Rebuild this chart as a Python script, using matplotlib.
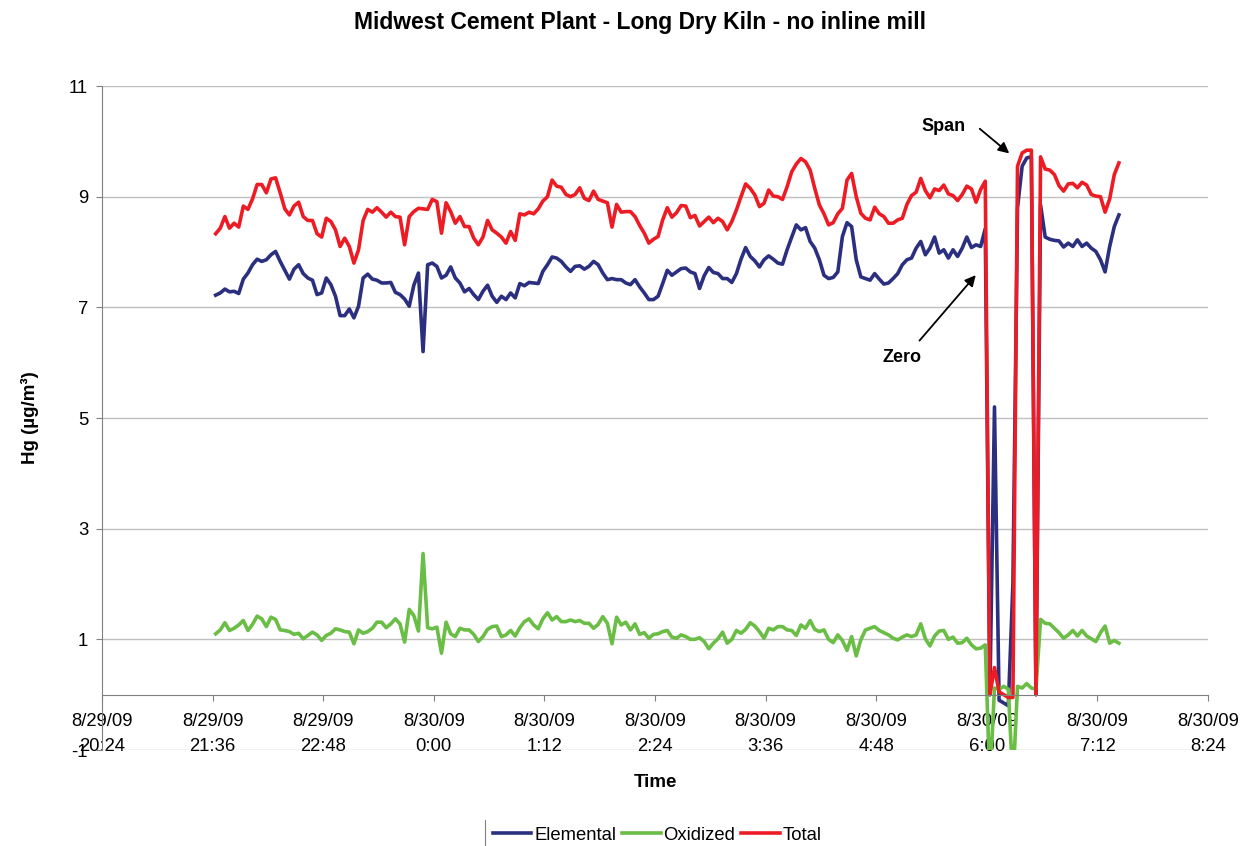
import matplotlib
matplotlib.use('Agg')
import matplotlib.pyplot as plt
import matplotlib.dates as mdates
from matplotlib.lines import Line2D
import pandas as pd

plt.rcParams['font.family'] = ['Liberation Sans', 'DejaVu Sans']
plt.rcParams['axes.unicode_minus'] = False

# Hg readings (ug/m3), one sample every 3 minutes starting 8/29/09 21:38
start = '2009-08-29 21:38'

elemental = [
    7.22, 7.26, 7.33, 7.28, 7.29, 7.25, 7.51, 7.62, 7.77, 7.87,
    7.83, 7.86, 7.95, 8.01, 7.83, 7.67, 7.51, 7.69, 7.77, 7.61,
    7.53, 7.49, 7.23, 7.26, 7.53, 7.41, 7.20, 6.85, 6.85, 6.97,
    6.81, 7.02, 7.53, 7.60, 7.51, 7.49, 7.44, 7.44, 7.45, 7.27,
    7.23, 7.15, 7.02, 7.40, 7.62, 6.20, 7.77, 7.80, 7.74, 7.53,
    7.58, 7.73, 7.53, 7.44, 7.28, 7.34, 7.23, 7.14, 7.29, 7.40,
    7.20, 7.09, 7.20, 7.14, 7.26, 7.17, 7.43, 7.39, 7.45, 7.44,
    7.43, 7.65, 7.77, 7.91, 7.89, 7.83, 7.73, 7.65, 7.74, 7.75,
    7.69, 7.74, 7.83, 7.77, 7.62, 7.50, 7.52, 7.50, 7.50, 7.44,
    7.41, 7.50, 7.37, 7.26, 7.14, 7.14, 7.20, 7.43, 7.67, 7.58,
    7.64, 7.70, 7.71, 7.64, 7.61, 7.34, 7.57, 7.72, 7.63, 7.61,
    7.52, 7.52, 7.45, 7.61, 7.87, 8.08, 7.92, 7.84, 7.73, 7.86,
    7.93, 7.87, 7.80, 7.78, 8.04, 8.27, 8.49, 8.40, 8.44, 8.19,
    8.07, 7.86, 7.58, 7.52, 7.54, 7.64, 8.28, 8.53, 8.46, 7.86,
    7.55, 7.52, 7.49, 7.61, 7.51, 7.42, 7.44, 7.52, 7.61, 7.77,
    7.86, 7.89, 8.07, 8.19, 7.95, 8.07, 8.27, 7.98, 8.04, 7.89,
    8.04, 7.92, 8.07, 8.27, 8.08, 8.13, 8.10, 8.42, 0.00, 5.20,
    -0.10, -0.15, -0.20, 2.00, 8.80, 9.55, 9.70, 9.72, 0.00, 8.85,
    8.27, 8.23, 8.21, 8.20, 8.09, 8.16, 8.10, 8.22, 8.10, 8.16,
    8.07, 8.01, 7.86, 7.64, 8.10, 8.46, 8.67,
]

oxidized = [
    1.10, 1.17, 1.30, 1.16, 1.20, 1.26, 1.34, 1.16, 1.27, 1.42,
    1.37, 1.23, 1.40, 1.36, 1.17, 1.16, 1.14, 1.09, 1.11, 1.01,
    1.07, 1.13, 1.08, 0.98, 1.07, 1.11, 1.19, 1.17, 1.14, 1.13,
    0.92, 1.17, 1.11, 1.14, 1.20, 1.31, 1.31, 1.21, 1.28, 1.37,
    1.28, 0.95, 1.54, 1.43, 1.15, 2.55, 1.21, 1.19, 1.22, 0.75,
    1.31, 1.10, 1.05, 1.20, 1.17, 1.17, 1.09, 0.96, 1.05, 1.18,
    1.23, 1.24, 1.05, 1.08, 1.16, 1.06, 1.21, 1.32, 1.37, 1.26,
    1.19, 1.37, 1.48, 1.35, 1.41, 1.32, 1.32, 1.35, 1.32, 1.34,
    1.29, 1.29, 1.20, 1.27, 1.41, 1.29, 0.92, 1.40, 1.26, 1.31,
    1.17, 1.28, 1.09, 1.12, 1.02, 1.09, 1.10, 1.14, 1.16, 1.04,
    1.02, 1.08, 1.05, 1.00, 1.00, 1.03, 0.96, 0.83, 0.93, 1.01,
    1.13, 0.93, 1.00, 1.16, 1.11, 1.18, 1.30, 1.24, 1.14, 1.02,
    1.20, 1.17, 1.23, 1.23, 1.17, 1.16, 1.07, 1.26, 1.20, 1.34,
    1.18, 1.14, 1.17, 1.00, 0.94, 1.08, 0.98, 0.80, 1.05, 0.70,
    0.99, 1.17, 1.20, 1.23, 1.16, 1.12, 1.08, 1.02, 0.99, 1.04,
    1.08, 1.05, 1.08, 1.28, 1.01, 0.88, 1.06, 1.15, 1.16, 1.00,
    1.04, 0.93, 0.94, 1.02, 0.90, 0.83, 0.84, 0.90, -1.60, 0.12,
    0.10, 0.15, 0.10, -1.60, 0.15, 0.12, 0.20, 0.12, 0.10, 1.36,
    1.29, 1.28, 1.20, 1.12, 1.02, 1.08, 1.16, 1.06, 1.16, 1.06,
    1.01, 0.96, 1.12, 1.24, 0.93, 0.98, 0.93,
]

total = [
    8.33, 8.43, 8.64, 8.43, 8.52, 8.45, 8.83, 8.77, 8.96, 9.22,
    9.22, 9.07, 9.32, 9.34, 9.07, 8.78, 8.67, 8.83, 8.90, 8.64,
    8.57, 8.57, 8.33, 8.27, 8.61, 8.55, 8.40, 8.10, 8.25, 8.10,
    7.80, 8.04, 8.57, 8.77, 8.72, 8.80, 8.72, 8.63, 8.72, 8.64,
    8.63, 8.13, 8.64, 8.73, 8.79, 8.78, 8.77, 8.95, 8.91, 8.34,
    8.89, 8.73, 8.52, 8.64, 8.46, 8.46, 8.25, 8.13, 8.27, 8.57,
    8.40, 8.34, 8.27, 8.16, 8.37, 8.21, 8.69, 8.67, 8.72, 8.69,
    8.78, 8.92, 9.00, 9.30, 9.19, 9.17, 9.04, 9.00, 9.04, 9.16,
    8.97, 8.93, 9.10, 8.95, 8.92, 8.89, 8.45, 8.86, 8.72, 8.73,
    8.73, 8.64, 8.48, 8.34, 8.16, 8.23, 8.28, 8.58, 8.80, 8.63,
    8.71, 8.84, 8.83, 8.62, 8.66, 8.47, 8.55, 8.63, 8.53, 8.61,
    8.55, 8.40, 8.55, 8.76, 9.00, 9.23, 9.15, 9.03, 8.82, 8.88,
    9.12, 9.01, 9.00, 8.95, 9.18, 9.45, 9.59, 9.69, 9.63, 9.48,
    9.15, 8.85, 8.69, 8.49, 8.53, 8.69, 8.79, 9.30, 9.42, 9.00,
    8.70, 8.61, 8.58, 8.81, 8.69, 8.64, 8.52, 8.52, 8.58, 8.61,
    8.86, 9.02, 9.08, 9.33, 9.11, 8.98, 9.14, 9.11, 9.21, 9.05,
    9.02, 8.93, 9.04, 9.19, 9.14, 8.90, 9.13, 9.28, 0.00, 0.49,
    0.05, 0.00, -0.05, -0.05, 9.55, 9.79, 9.84, 9.84, 0.00, 9.72,
    9.50, 9.48, 9.40, 9.20, 9.10, 9.23, 9.24, 9.16, 9.26, 9.21,
    9.04, 9.01, 9.00, 8.72, 8.96, 9.40, 9.61,
]

y_ticks = [-1, 1, 3, 5, 7, 9, 11]
x_ticks = pd.date_range('2009-08-29 20:24', '2009-08-30 08:24', freq='72min')

# annotation anchors: (time, value)
zero_head = ('2009-08-30 05:54', 7.62)
zero_tail = ('2009-08-30 05:15', 6.36)
zero_text = ('2009-08-30 05:05', 6.10)
span_head = ('2009-08-30 06:16', 9.75)
span_tail = ('2009-08-30 05:54', 10.26)
span_text = ('2009-08-30 05:32', 10.26)

title = 'Midwest Cement Plant - Long Dry Kiln - no inline mill'

times = pd.date_range(start, periods=len(total), freq='3min').to_pydatetime()


def dnum(s):
    return mdates.date2num(pd.Timestamp(s).to_pydatetime())


W, H = 1240, 846
fig = plt.figure(figsize=(W / 100, H / 100), dpi=100)
ax = fig.add_axes([102 / W, 1 - 750 / H, (1208 - 102) / W, (750 - 86) / H])

ax.plot(times, elemental, color='#2b2f7f', lw=2.6, label='Elemental')
ax.plot(times, oxidized, color='#6abd45', lw=2.6, label='Oxidized')
ax.plot(times, total, color='#ed1c24', lw=2.6, label='Total')

ax.set_xlim(dnum(x_ticks[0]), dnum(x_ticks[-1]))
ax.set_ylim(-1, 11)
ax.set_yticks(y_ticks)

# date on major ticks, clock time on minor ticks at the same spots (two-line labels)
tick_pos = [dnum(t) for t in x_ticks]
ax.xaxis.remove_overlapping_locs = False
ax.set_xticks(tick_pos)
ax.set_xticklabels([f'{t.month}/{t.day}/{t:%y}' for t in x_ticks])
ax.set_xticks(tick_pos, minor=True)
ax.set_xticklabels([f'{t.hour}:{t:%M}' for t in x_ticks], minor=True)

# Excel style: gray horizontal gridlines, x axis crossing at zero
ax.yaxis.grid(True, color='#c0c0c0', lw=1)
ax.set_axisbelow(True)
ax.spines['top'].set_visible(False)
ax.spines['right'].set_visible(False)
ax.spines['bottom'].set_position(('data', 0))
for side in ['left', 'bottom']:
    ax.spines[side].set_color('#808080')
ax.tick_params(axis='both', direction='out', length=4, color='#808080',
               labelsize=13.3)
ax.tick_params(axis='x', pad=9.5)
ax.tick_params(axis='x', which='minor', length=0, pad=31, labelsize=13.3)
ax.tick_params(axis='y', pad=6)

# Zero / Span callouts
ax.annotate('', xy=(dnum(zero_head[0]), zero_head[1]),
            xytext=(dnum(zero_tail[0]), zero_tail[1]),
            arrowprops=dict(arrowstyle='-|>', color='black', lw=1.3, mutation_scale=16))
ax.text(dnum(zero_text[0]), zero_text[1], 'Zero', fontsize=13, fontweight='bold',
        ha='center', va='center')
ax.annotate('', xy=(dnum(span_head[0]), span_head[1]),
            xytext=(dnum(span_tail[0]), span_tail[1]),
            arrowprops=dict(arrowstyle='-|>', color='black', lw=1.3, mutation_scale=16))
ax.text(dnum(span_text[0]), span_text[1], 'Span', fontsize=13, fontweight='bold',
        ha='center', va='center')

fig.text(640 / W, 1 - 23 / H, title, ha='center', va='center', fontsize=16.5,
         fontweight='bold')
fig.text(655 / W, 1 - 782 / H, 'Time', ha='center', va='center', fontsize=13.5,
         fontweight='bold')
fig.text(30 / W, 1 - 418 / H, 'Hg (µg/m³)', ha='center', va='center', rotation=90,
         fontsize=13.5, fontweight='bold')

fig.legend(loc='center', bbox_to_anchor=(657 / W, 1 - 835 / H), ncol=3, frameon=False,
           fontsize=13.3, handlelength=2.1, handletextpad=0.15, columnspacing=0.3)
fig.add_artist(Line2D([485 / W, 485 / W], [0, 1 - 820 / H], transform=fig.transFigure,
                      color='#808080', lw=0.8))

fig.savefig('out.png', dpi=100)
